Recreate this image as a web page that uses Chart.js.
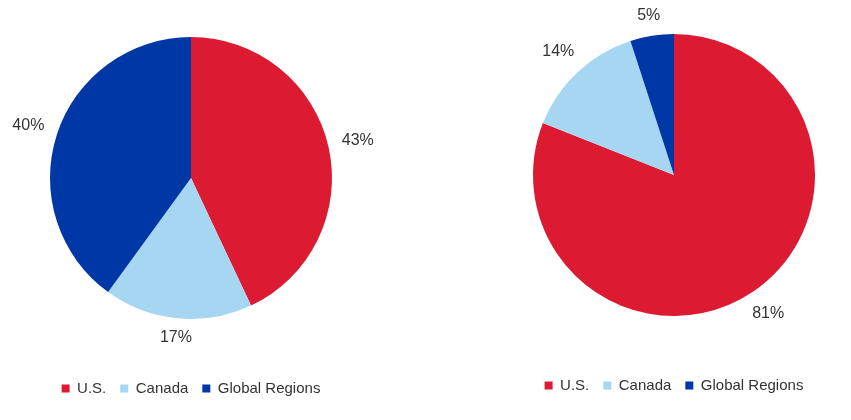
<!DOCTYPE html>
<html>
<head>
<meta charset="utf-8">
<script src="https://cdn.jsdelivr.net/npm/chart.js@4.4.1/dist/chart.umd.min.js"></script>
<style>
  body { margin: 0; background: #fff; width: 851px; height: 420px; position: relative; overflow: hidden; }
  canvas { position: absolute; }
  #leftPie { left: 0; top: -11px; }
  #rightPie { left: 497px; top: -14px; }
</style>
</head>
<body>
<canvas id="leftPie" width="382" height="417"></canvas>
<canvas id="rightPie" width="354" height="417"></canvas>
<script>
  const categories = ["U.S.", "Canada", "Global Regions"];
  const leftValues = [43, 17, 40];
  const rightValues = [81, 14, 5];
  const sliceColors = ["#DC1B32", "#A6D6F2", "#0037A6"];

  // percent labels outside each slice
  const outsideLabels = {
    id: "outsideLabels",
    afterDatasetsDraw(chart) {
      const ctx = chart.ctx;
      const meta = chart.getDatasetMeta(0);
      const data = chart.data.datasets[0].data;
      ctx.save();
      ctx.font = "16px 'Liberation Sans', Arial, sans-serif";
      ctx.fillStyle = "#333333";
      ctx.textAlign = "center";
      ctx.textBaseline = "middle";
      meta.data.forEach((arc, i) => {
        const p = arc.getProps(["x", "y", "startAngle", "endAngle", "outerRadius"], true);
        const mid = (p.startAngle + p.endAngle) / 2;
        const cx = Math.cos(mid), cy = Math.sin(mid);
        const off = 12 + Math.abs(cx) * 17 + Math.abs(cy) * 6;
        const r = p.outerRadius + off;
        ctx.fillText(data[i] + "%", p.x + cx * r, p.y + cy * r);
      });
      ctx.restore();
    },
  };

  function makePie(id, values) {
    return new Chart(document.getElementById(id), {
      type: "pie",
      data: {
        labels: categories,
        datasets: [
          {
            data: values,
            backgroundColor: sliceColors,
            borderWidth: 0,
          },
        ],
      },
      options: {
        responsive: false,
        animation: false,
        radius: 141,
        layout: { padding: 0 },
        plugins: {
          tooltip: { enabled: false },
          legend: {
            position: "bottom",
            labels: {
              boxWidth: 8,
              boxHeight: 8,
              padding: 14,
              color: "#333333",
              font: { size: 15, family: "'Liberation Sans', Arial, sans-serif" },
            },
          },
        },
      },
      plugins: [outsideLabels],
    });
  }

  makePie("leftPie", leftValues);
  makePie("rightPie", rightValues);
</script>
</body>
</html>
